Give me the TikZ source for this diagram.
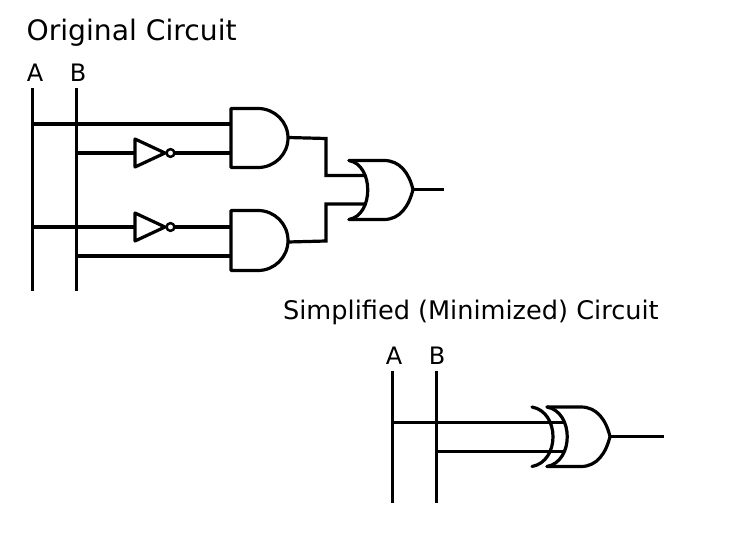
\documentclass[tikz,border=0pt]{standalone}
\usepackage{fontspec}
\setmainfont{DejaVu Sans}
\begin{document}
\begin{tikzpicture}[x=1pt,y=-1pt,line width=3.2pt,
 title/.style={inner sep=0pt,font=\fontsize{28.2}{32}\selectfont,anchor=base west},
 title2/.style={inner sep=0pt,font=\fontsize{25.6}{30}\selectfont,anchor=base west},
 pin/.style={inner sep=0pt,font=\fontsize{24}{28}\selectfont,anchor=base},
 wire/.style={line join=miter},
 gate/.style={line join=round,line cap=round}]
\useasboundingbox (0,0) rectangle (732,554);
\node[title] (t1) at (25,41) {Original Circuit};
\node[title2] (t2) at (281.5,319) {Simplified (Minimized) Circuit};
\node[pin] (a1) at (35,81) {A};
\node[pin] (b1) at (78,81) {B};
\node[pin] (a2) at (394,364) {A};
\node[pin] (b2) at (437,364) {B};
\draw (32.5,88) -- (32.5,291);
\draw (76.5,88) -- (76.5,291);
\draw (392.5,371) -- (392.5,503);
\draw (436.5,371) -- (436.5,503);
% AND gates
\draw[gate] (231,108.5) -- (258,108.5) arc[start angle=-90,end angle=90,x radius=30,y radius=29.5] -- (231,167.5) -- cycle;
\draw[gate] (231,210.5) -- (258,210.5) arc[start angle=-90,end angle=90,x radius=30,y radius=30] -- (231,270.5) -- cycle;
\draw (32,124) -- (231,124);
\draw (76,153) -- (135,153);
\draw (174,153) -- (231,153);
\draw[gate] (135,139) -- (165,153) -- (135,167) -- cycle;
\draw[line width=2.4pt] (170.5,153) circle (3.9);
\draw (32,227) -- (135,227);
\draw (174,227) -- (231,227);
\draw[gate] (135,213) -- (165,227) -- (135,241) -- cycle;
\draw[line width=2.4pt] (170.5,227) circle (3.9);
\draw (76,256) -- (231,256);
\draw[wire] (288,137.5) -- (326,138.5) -- (326,175.5) -- (366,175.5);
\draw[wire] (288,242) -- (326,241) -- (326,204) -- (366,204);
% OR
\draw[gate] (349,160.5) -- (384,160.5) .. controls (400,160.5) and (409,173) .. (413,189.5) .. controls (409,206) and (400,219.5) .. (384,219.5) -- (349,219.5);
\draw[gate] (349,160.5) .. controls (374,165) and (374,215) .. (349,219.5);
\draw (413,189.5) -- (444,189.5);
% XOR
\draw[gate] (547,407) -- (581,407) .. controls (597,407) and (606,420) .. (610,436.5) .. controls (606,453) and (597,466.5) .. (581,466.5) -- (547,466.5);
\draw[gate] (547,407) .. controls (574,412) and (574,461.5) .. (547,466.5);
\draw[gate] (532,407) .. controls (560,412) and (560,461.5) .. (532,466.5);
\draw (610,436.5) -- (664,436.5);
\draw (392,422.5) -- (565,422.5);
\draw (436,451.5) -- (565,451.5);
\end{tikzpicture}
\end{document}
